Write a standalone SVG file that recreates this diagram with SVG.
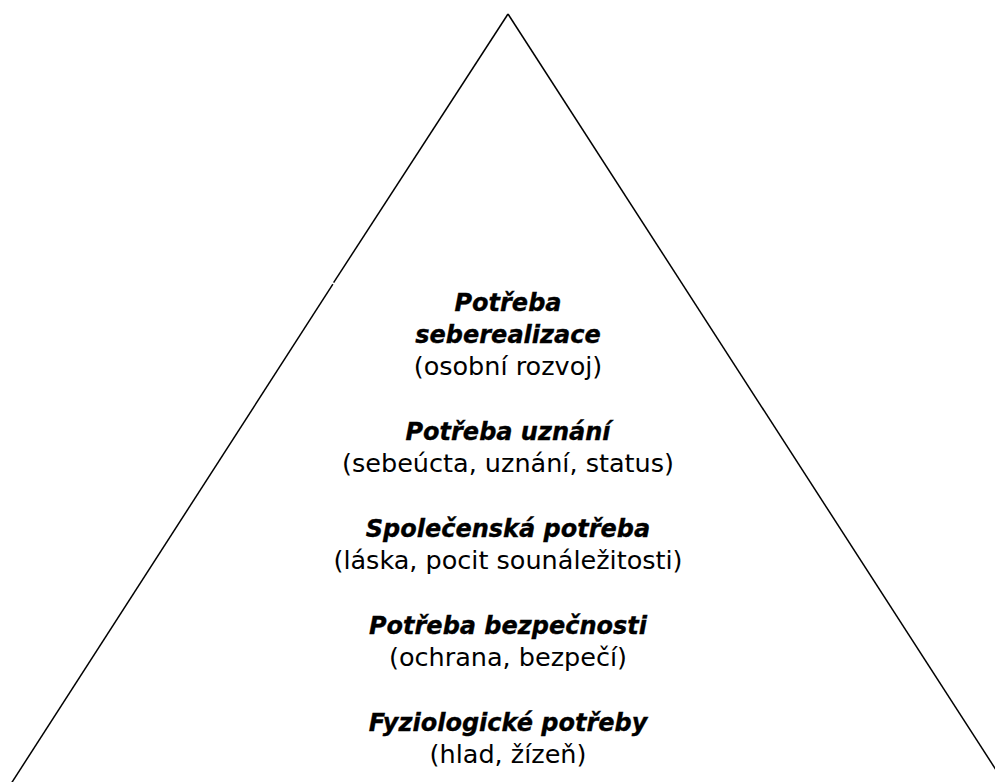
<svg xmlns="http://www.w3.org/2000/svg" width="995" height="782" viewBox="0 0 995 782">
<style>
.t{font-family:"DejaVu Sans","Liberation Sans",sans-serif;font-size:24px;font-weight:bold;font-style:italic;fill:#000;stroke:#000;stroke-width:0.35;text-anchor:middle}
.s{font-family:"DejaVu Sans","Liberation Sans",sans-serif;font-size:25.5px;fill:#000;text-anchor:middle}
.edge{stroke:#000;stroke-width:1.5;fill:none}
</style>
<rect width="995" height="782" fill="#fff"/>
<g id="pyramid">
<line class="edge" x1="508" y1="14" x2="333.6" y2="282.6"/>
<line class="edge" x1="332.9" y1="284.2" x2="7" y2="790"/>
<line class="edge" x1="508" y1="14" x2="1009" y2="790"/>
</g>
<g id="level5">
<text class="t" x="508" y="311">Potřeba</text>
<text class="t" x="508" y="343">seberealizace</text>
<text class="s" x="508" y="375">(osobní rozvoj)</text>
</g>
<g id="level4">
<text class="t" x="508" y="440">Potřeba uznání</text>
<text class="s" x="508" y="472">(sebeúcta, uznání, status)</text>
</g>
<g id="level3">
<text class="t" x="508" y="537">Společenská potřeba</text>
<text class="s" x="508" y="569">(láska, pocit sounáležitosti)</text>
</g>
<g id="level2">
<text class="t" x="508" y="634">Potřeba bezpečnosti</text>
<text class="s" x="508" y="666">(ochrana, bezpečí)</text>
</g>
<g id="level1">
<text class="t" x="508" y="731">Fyziologické potřeby</text>
<text class="s" x="508" y="763">(hlad, žízeň)</text>
</g>
</svg>
